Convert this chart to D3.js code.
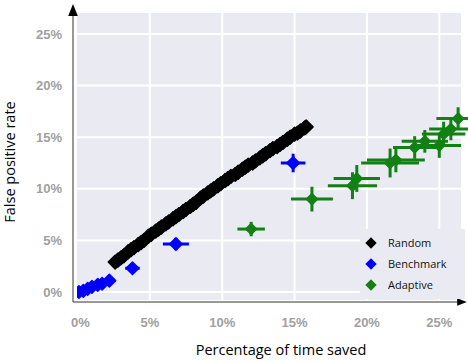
<!DOCTYPE html>
<html>
<head>
<meta charset="utf-8">
<script src="https://cdn.jsdelivr.net/npm/d3@7"></script>
<style>
  body { margin: 0; background: #fff; }
  svg { display: block; }
</style>
</head>
<body>
<div id="chart"></div>
<script>
// values, in percent
var tickValues = [0, 5, 10, 15, 20, 25];

var randomX = [2.6, 2.8, 3.0, 3.2, 3.5, 3.7, 3.9, 4.2, 4.4, 4.6, 4.9, 5.1, 5.4, 5.6, 5.8, 6.1, 6.3, 6.6, 6.8, 7.0,
  7.3, 7.5, 7.8, 8.0, 8.2, 8.5, 8.7, 9.0, 9.2, 9.4, 9.7, 9.9, 10.2, 10.4, 10.6, 10.9, 11.1, 11.4, 11.6, 11.8,
  12.1, 12.3, 12.6, 12.8, 13.0, 13.3, 13.5, 13.8, 14.0, 14.2, 14.5, 14.7, 15.0, 15.2, 15.4, 15.7, 15.8];
var randomY = [2.9, 3.1, 3.3, 3.5, 3.9, 4.1, 4.3, 4.6, 4.8, 5.0, 5.4, 5.6, 5.9, 6.1, 6.3, 6.6, 6.8, 7.1, 7.3, 7.5,
  7.8, 8.0, 8.3, 8.5, 8.7, 9.1, 9.3, 9.6, 9.8, 10.0, 10.3, 10.5, 10.8, 11.0, 11.2, 11.4, 11.6, 11.9, 12.1, 12.3,
  12.5, 12.7, 13.0, 13.2, 13.4, 13.7, 13.9, 14.1, 14.3, 14.5, 14.8, 15.0, 15.3, 15.4, 15.6, 15.9, 16.0];

var benchX =    [0.1, 0.4, 0.7, 1.0, 1.4, 1.7, 2.2, 3.8, 6.8, 14.9];
var benchY =    [0.0, 0.1, 0.3, 0.5, 0.7, 0.8, 1.1, 2.3, 4.65, 12.5];
var benchXErr = [0, 0, 0, 0, 0, 0, 0, 0.5, 0.9, 0.85];
var benchYErr = [0, 0, 0, 0, 0, 0, 0, 0.3, 0.6, 0.9];

var adaptX =    [12.0, 16.2, 19.0, 19.3, 21.6, 22.0, 23.3, 24.0, 25.0, 25.3, 25.8, 26.3];
var adaptY =    [6.1, 9.0, 10.3, 11.0, 12.5, 12.8, 14.0, 14.6, 14.2, 15.3, 15.8, 16.8];
var adaptXErr = [0.95, 1.45, 1.7, 1.6, 2.0, 2.0, 1.5, 1.6, 1.5, 1.5, 1.5, 1.5];
var adaptYErr = [0.7, 1.2, 1.3, 1.3, 1.4, 1.2, 1.1, 1.1, 1.2, 1.2, 1.1, 1.1];

var legendNames = ["Random", "Benchmark", "Adaptive"];
var legendColors = ["#000000", "#0000ff", "#138013"];

var W = 468, H = 362;
var plot = {left: 77, right: 461, top: 13, bottom: 300};

var svg = d3.select("#chart").append("svg")
    .attr("width", W)
    .attr("height", H);

var x = d3.scaleLinear().domain([0, 26.5]).range([plot.left + 0.5, plot.right]);
var y = d3.scaleLinear().domain([0, 25]).range([292, 34]);

// background
svg.append("rect")
    .attr("x", plot.left)
    .attr("y", plot.top)
    .attr("width", plot.right - plot.left)
    .attr("height", plot.bottom - plot.top)
    .attr("fill", "#eaeaf2");

// grid
svg.append("g").selectAll("line.gx")
    .data(tickValues.slice(1))
  .enter().append("line")
    .attr("x1", function(d) { return x(d); })
    .attr("x2", function(d) { return x(d); })
    .attr("y1", plot.top)
    .attr("y2", plot.bottom)
    .attr("stroke", "#fff")
    .attr("stroke-width", 2);
svg.append("g").selectAll("line.gy")
    .data(tickValues)
  .enter().append("line")
    .attr("x1", plot.left)
    .attr("x2", plot.right)
    .attr("y1", function(d) { return y(d); })
    .attr("y2", function(d) { return y(d); })
    .attr("stroke", "#fff")
    .attr("stroke-width", 2);

// tick labels
var tickFont = "'Liberation Sans', Arial, sans-serif";
svg.append("g").selectAll("text")
    .data(tickValues)
  .enter().append("text")
    .attr("x", 62)
    .attr("y", function(d) { return y(d); })
    .attr("dy", "0.35em")
    .attr("text-anchor", "end")
    .style("font-family", tickFont)
    .style("font-size", "13px")
    .style("font-weight", "bold")
    .style("fill", "#a0a0a0")
    .text(function(d) { return d + "%"; });
svg.append("g").selectAll("text")
    .data(tickValues)
  .enter().append("text")
    .attr("x", function(d) { return x(d) + (d == 0 ? 3 : 0); })
    .attr("y", 322)
    .attr("dy", "0.35em")
    .attr("text-anchor", "middle")
    .style("font-family", tickFont)
    .style("font-size", "13px")
    .style("font-weight", "bold")
    .style("fill", "#a0a0a0")
    .text(function(d) { return d + "%"; });

// clip for the marks
svg.append("clipPath").attr("id", "clip")
  .append("rect")
    .attr("x", plot.left)
    .attr("y", plot.top)
    .attr("width", W - plot.left)
    .attr("height", plot.bottom - plot.top);

var marks = svg.append("g").attr("clip-path", "url(#clip)");
var diamond = d3.symbol().type(d3.symbolSquare).size(64);

function errorBars(xs, ys, xe, ye, color) {
    var g = marks.append("g").attr("stroke", color).attr("stroke-width", 3);
    xs.forEach(function(v, i) {
        if (xe[i] > 0) {
            g.append("line")
                .attr("x1", x(v - xe[i])).attr("x2", x(v + xe[i]))
                .attr("y1", y(ys[i])).attr("y2", y(ys[i]));
        }
        if (ye[i] > 0) {
            g.append("line")
                .attr("x1", x(v)).attr("x2", x(v))
                .attr("y1", y(ys[i] - ye[i])).attr("y2", y(ys[i] + ye[i]));
        }
    });
}

function points(xs, ys, color, size) {
    marks.append("g").selectAll("path")
        .data(xs)
      .enter().append("path")
        .attr("d", d3.symbol().type(d3.symbolSquare).size(size))
        .attr("transform", function(d, i) {
            return "translate(" + x(d) + "," + y(ys[i]) + ") rotate(45)";
        })
        .attr("fill", color)
        .attr("stroke", color)
        .attr("stroke-width", 1.5)
        .attr("stroke-linejoin", "round");
}

errorBars(adaptX, adaptY, adaptXErr, adaptYErr, legendColors[2]);
points(adaptX, adaptY, legendColors[2], 60);
errorBars(benchX, benchY, benchXErr, benchYErr, legendColors[1]);
points(benchX, benchY, legendColors[1], 80);
points(randomX, randomY, legendColors[0], 95);

// axes with arrows
svg.append("defs").append("marker")
    .attr("id", "arrow")
    .attr("viewBox", "0 0 10 10")
    .attr("refX", 5).attr("refY", 5)
    .attr("markerWidth", 8).attr("markerHeight", 8)
    .attr("orient", "auto")
  .append("path")
    .attr("d", "M0,1L10,5L0,9Z")
    .attr("fill", "#000");

svg.append("line")
    .attr("x1", 73).attr("x2", 73)
    .attr("y1", 302).attr("y2", 10)
    .attr("stroke", "#777")
    .attr("stroke-width", 1.5)
    .attr("marker-end", "url(#arrow)");
svg.append("line")
    .attr("x1", 73).attr("x2", 462)
    .attr("y1", 302).attr("y2", 302)
    .attr("stroke", "#333")
    .attr("stroke-width", 1.2)
    .attr("marker-end", "url(#arrow)");

// legend
var legend = svg.append("g");
legend.append("rect")
    .attr("x", 360).attr("y", 229)
    .attr("width", 105).attr("height", 70)
    .attr("fill", "#eaeaf2");
legend.selectAll("path")
    .data(legendNames)
  .enter().append("path")
    .attr("d", diamond)
    .attr("transform", function(d, i) { return "translate(371," + (243 + i * 21) + ") rotate(45)"; })
    .attr("fill", function(d, i) { return legendColors[i]; });
legend.selectAll("text")
    .data(legendNames)
  .enter().append("text")
    .attr("x", 388)
    .attr("y", function(d, i) { return 243 + i * 21; })
    .attr("dy", "0.35em")
    .style("font-family", "'Open Sans', sans-serif")
    .style("font-size", "11px")
    .style("fill", "#111")
    .text(function(d) { return d; });

// axis titles
svg.append("text")
    .attr("x", 281)
    .attr("y", 355)
    .attr("text-anchor", "middle")
    .style("font-family", "'Open Sans', sans-serif")
    .style("font-size", "14.5px")
    .style("fill", "#000")
    .text("Percentage of time saved");
svg.append("text")
    .attr("transform", "translate(15,162) rotate(-90)")
    .attr("text-anchor", "middle")
    .style("font-family", "'Open Sans', sans-serif")
    .style("font-size", "14.5px")
    .style("fill", "#000")
    .text("False positive rate");
</script>
</body>
</html>
